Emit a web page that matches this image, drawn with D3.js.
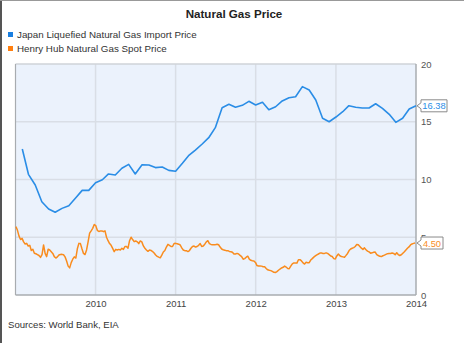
<!DOCTYPE html>
<html><head><meta charset="utf-8">
<script src="https://cdn.jsdelivr.net/npm/d3@7"></script>
<style>
html,body{margin:0;padding:0;background:#fff;}
svg{display:block;font-family:"Liberation Sans",Arial,sans-serif;}
</style></head>
<body>
<svg id="c" width="464" height="343"></svg>
<script>
// ---- data ----
const title = "Natural Gas Price";
const seriesNames = ["Japan Liquefied Natural Gas Import Price", "Henry Hub Natural Gas Spot Price"];
const source = "Sources: World Bank, EIA";
const yearTicks = [2010, 2011, 2012, 2013, 2014];
const yTicks = [0, 5, 10, 15, 20];
const japanStart = "2009-02-01"; // monthly
const japanValues = [
  12.64, 10.45, 9.52, 8.08, 7.45, 7.16, 7.5, 7.73, 8.37, 9.06, 9.06,
  9.72, 9.98, 10.48, 10.39, 10.97, 11.31, 10.48, 11.28, 11.26, 11.03, 11.08, 10.79,
  10.71, 11.4, 12.06, 12.55, 13.05, 13.62, 14.49, 16.22, 16.51, 16.25, 16.42, 16.77,
  16.45, 16.68, 16.04, 16.3, 16.8, 17.08, 17.17, 18.04, 17.75, 16.88, 15.3, 15.0,
  15.41, 15.87, 16.39, 16.25, 16.19, 16.19, 16.56, 16.16, 15.64, 14.95, 15.3, 16.1,
  16.38
];
const henryStart = "2009-01-03"; // weekly
const henryValues = [
  5.92, 5.6, 5.1, 4.8, 4.9, 4.6, 4.42, 4.47, 4.24, 4.3,
  3.85, 3.96, 3.62, 3.57, 3.5, 3.42, 3.26, 3.5, 4.33, 3.6,
  3.32, 3.96, 3.9, 3.75, 3.6, 3.32, 3.2, 3.3, 3.46, 3.5,
  3.52, 3.48, 3.3, 2.95, 2.5, 2.35, 2.8, 3.1, 3.3, 3.2,
  4.0, 4.47, 4.45, 4.0, 3.6, 3.5, 3.9, 4.6, 5.35, 5.55,
  5.77, 6.1, 6.0, 5.6, 5.5, 5.55, 5.55, 5.48, 5.55, 5.0,
  4.7, 4.45, 4.3, 4.04, 3.75, 3.95, 3.9, 3.95, 3.9, 4.04,
  3.95, 4.2, 4.2, 4.05, 4.7, 5.0, 4.8, 4.62, 4.68, 4.6,
  4.45, 4.68, 4.6, 4.25, 4.05, 3.9, 3.78, 3.9, 3.86, 3.76,
  3.63, 3.46, 3.35, 3.28, 3.22, 3.45, 3.72, 3.85, 4.15, 4.38,
  4.3, 4.2, 4.2, 4.46, 4.47, 4.44, 4.4, 4.33, 4.08, 3.9,
  3.84, 3.84, 3.76, 3.85, 4.05, 4.2, 4.24, 4.15, 4.2, 4.3,
  4.45, 4.2, 4.24, 4.4, 4.6, 4.7, 4.45, 4.38, 4.36, 4.36,
  4.36, 4.4, 4.35, 4.15, 3.98, 3.92, 3.88, 3.84, 3.84, 3.77,
  3.75, 3.7, 3.55, 3.55, 3.6, 3.55, 3.43, 3.33, 3.1, 3.15,
  3.27, 3.36, 3.1, 3.0, 2.97, 2.95, 2.82, 2.55, 2.51, 2.51,
  2.5, 2.45, 2.45, 2.3, 2.18, 2.14, 2.11, 2.04, 1.96, 1.95,
  2.02, 2.14, 2.25, 2.34, 2.4, 2.5, 2.42, 2.3, 2.28, 2.5,
  2.7, 2.78, 2.78, 2.76, 3.05, 3.06, 2.95, 2.78, 2.68, 2.84,
  2.8, 2.8, 3.03, 3.15, 3.28, 3.38, 3.48, 3.55, 3.63, 3.63,
  3.6, 3.6, 3.65, 3.6, 3.5, 3.38, 3.33, 3.15, 3.12, 3.38,
  3.55, 3.4, 3.33, 3.3, 3.27, 3.43, 3.6, 3.85, 3.98, 4.05,
  4.1, 4.2, 4.38, 4.35, 4.2, 4.05, 3.95, 4.08, 3.92, 3.8,
  3.73, 3.62, 3.65, 3.7, 3.72, 3.5, 3.42, 3.35, 3.33, 3.4,
  3.45, 3.52, 3.58, 3.6, 3.6, 3.64, 3.6, 3.48, 3.66, 3.5,
  3.42, 3.48, 3.62, 3.75, 3.9, 4.05, 4.16, 4.33, 4.42, 4.47,
  4.50
];
const colors = ["#2a8de6", "#f98c1e"];
const legendColors = ["#1a7fe0", "#ff7f0f"];

// ---- build ----
const parse = d3.utcParse("%Y-%m-%d");
const j0 = parse(japanStart), h0 = parse(henryStart);
const japan = japanValues.map((v, i) => ({ d: d3.utcMonth.offset(j0, i), v }));
const henry = henryValues.map((v, i) => ({ d: d3.utcDay.offset(h0, 7 * i), v }));

const svg = d3.select("#c");
const L = 15.5, R = 416, T = 64, B = 295;
const FONT = "Liberation Sans, Arial, sans-serif";

const x = d3.scaleUtc().domain([Date.UTC(2009, 0, 1), Date.UTC(2014, 0, 1)]).range([L, R]);
const y = d3.scaleLinear().domain([0, 20]).range([B, T]);

// outer frame
svg.append("rect").attr("x", 0).attr("y", 0).attr("width", 464).attr("height", 343).attr("fill", "#fff");
svg.append("line").attr("x1", 1).attr("x2", 1).attr("y1", 0).attr("y2", 343).attr("stroke", "#555").attr("stroke-width", 2);
svg.append("line").attr("x1", 0).attr("x2", 464).attr("y1", 0.5).attr("y2", 0.5).attr("stroke", "#999").attr("stroke-width", 1);

// title
svg.append("text").attr("x", 234).attr("y", 18).attr("text-anchor", "middle")
  .attr("font-size", 11.6).attr("font-weight", "bold").attr("fill", "#222").text(title);

// legend
seriesNames.forEach((n, i) => {
  const yy = 32 + i * 14;
  svg.append("rect").attr("x", 8).attr("y", yy).attr("width", 5).attr("height", 5).attr("fill", legendColors[i]);
  svg.append("text").attr("x", 17).attr("y", yy + 5.8).attr("font-size", 9.8).attr("fill", "#333").text(n);
});

// plot background
svg.append("rect").attr("x", L).attr("y", T).attr("width", R - L).attr("height", B - T).attr("fill", "#ebf2fc");

// gridlines
svg.append("g").selectAll("line").data(yTicks.filter(t => t > 0 && t < 20)).join("line")
  .attr("x1", L).attr("x2", R).attr("y1", d => y(d)).attr("y2", d => y(d))
  .attr("stroke", "#d9dee6").attr("stroke-width", 1.5);
svg.append("g").selectAll("line").data(yearTicks.filter(t => t < 2014)).join("line")
  .attr("x1", d => x(Date.UTC(d, 0, 1))).attr("x2", d => x(Date.UTC(d, 0, 1)))
  .attr("y1", T).attr("y2", B).attr("stroke", "#d9dee6").attr("stroke-width", 1.5);

// frame
svg.append("line").attr("x1", L).attr("x2", R).attr("y1", T).attr("y2", T).attr("stroke", "#cfd3d8").attr("stroke-width", 1.5);
svg.append("line").attr("x1", L).attr("x2", L).attr("y1", T).attr("y2", B).attr("stroke", "#a8acb0").attr("stroke-width", 1.2);
svg.append("line").attr("x1", L).attr("x2", R).attr("y1", B).attr("y2", B).attr("stroke", "#a8acb0").attr("stroke-width", 1.5);
svg.append("line").attr("x1", R).attr("x2", R).attr("y1", T).attr("y2", B).attr("stroke", "#a8acb0").attr("stroke-width", 1.5);

// axes labels
const yAxis = d3.axisRight(y).tickValues(yTicks).tickSize(0).tickPadding(5);
const gy = svg.append("g").attr("transform", `translate(${R},0)`).call(yAxis);
gy.select(".domain").remove();
gy.selectAll("text").attr("font-size", 9.5).attr("fill", "#555").attr("font-family", FONT);

const xAxis = d3.axisBottom(x).tickValues(yearTicks.map(t => new Date(Date.UTC(t, 0, 1))))
  .tickFormat(d3.utcFormat("%Y")).tickSize(0).tickPadding(5.5);
const gx = svg.append("g").attr("transform", `translate(0,${B})`).call(xAxis);
gx.select(".domain").remove();
gx.selectAll("text").attr("font-size", 9.5).attr("fill", "#444").attr("font-family", FONT);

// lines
const line = d3.line().x(d => x(d.d)).y(d => y(d.v));
svg.append("path").datum(henry).attr("d", line).attr("fill", "none")
  .attr("stroke", colors[1]).attr("stroke-width", 1.5).attr("stroke-linejoin", "round");
svg.append("path").datum(japan).attr("d", line).attr("fill", "none")
  .attr("stroke", colors[0]).attr("stroke-width", 1.6).attr("stroke-linejoin", "round");

// end callouts
[[japan, 0], [henry, 1]].forEach(([s, i]) => {
  const last = s[s.length - 1];
  const py = y(last.v);
  const label = last.v.toFixed(2);
  const g = svg.append("g");
  const bx = 421, bw = i === 0 ? 26 : 22, bh = 12;
  g.append("path")
    .attr("d", `M${bx},${py - bh / 2} H${bx + bw} V${py + bh / 2} H${bx} V${py + 3} L${R + 1},${py} L${bx},${py - 3} Z`)
    .attr("fill", "#fff").attr("stroke", "#8a8a8a").attr("stroke-width", 1);
  g.append("text").attr("x", bx + bw / 2).attr("y", py + 3.5).attr("text-anchor", "middle").attr("font-size", 9.3)
    .attr("fill", colors[i]).text(label);
});

// source
svg.append("text").attr("x", 8).attr("y", 328).attr("font-size", 9.6).attr("fill", "#333").text(source);
</script>
</body></html>
